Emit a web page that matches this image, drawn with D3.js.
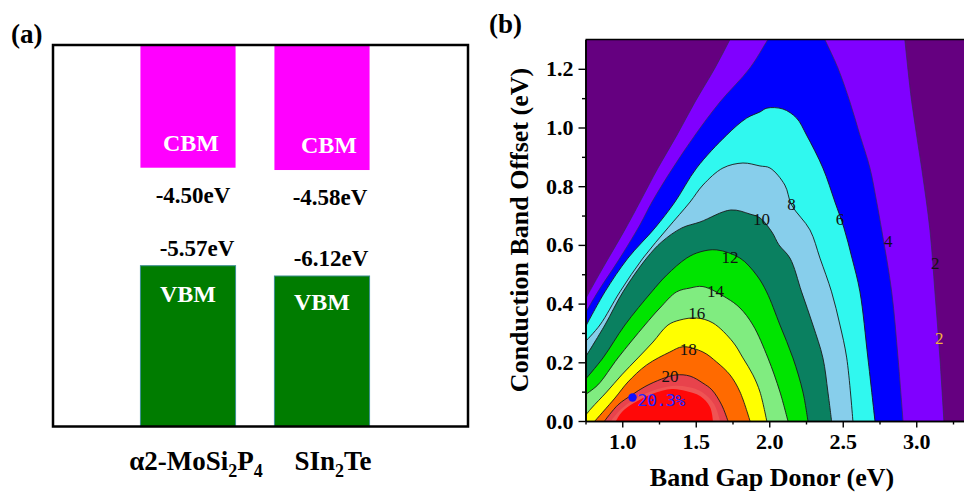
<!DOCTYPE html>
<html>
<head>
<meta charset="utf-8">
<script src="https://cdn.jsdelivr.net/npm/d3@7"></script>
<style>
  html, body { margin: 0; padding: 0; background: #fff; }
  svg { display: block; }
  text { font-family: "Liberation Serif", "Times New Roman", serif; }
</style>
</head>
<body>
<svg id="fig" width="964" height="492"></svg>
<script>
// ---------- Panel (a): band edge alignment ----------
const materials = ["α2-MoSi2P4", "SIn2Te"];
const materialParts = [
  [["α2-MoSi", 0], ["2", 1], ["P", 0], ["4", 1]],
  [["SIn", 0], ["2", 1], ["Te", 0]]
];
const cbmValues = [-4.50, -4.58];   // conduction band minimum (eV)
const vbmValues = [-5.57, -6.12];   // valence band maximum (eV)

// ---------- Panel (b): PCE contour map ----------
// Iso-efficiency lines (%), each traced as [band gap donor (eV), conduction band offset (eV)].
// Lines that leave through the top of the map continue a little past 1.3 eV and are clipped.
const contour2 = [[0.746,0.412],[0.848,0.504],[1.025,0.658],[1.120,0.746],[1.243,0.862],[1.372,0.974],
  [1.495,1.087],[1.631,1.203],[1.733,1.300],[1.838,1.400],[2.900,1.400],[2.922,1.300],[2.969,1.088],
  [3.037,0.861],[3.093,0.651],[3.127,0.440],[3.161,0.215],[3.188,0]];
const contour4 = [[0.746,0.365],[0.834,0.440],[0.984,0.555],[1.120,0.668],[1.202,0.746],[1.344,0.862],
  [1.495,0.974],[1.665,1.087],[1.869,1.203],[1.991,1.300],[2.117,1.400],[2.286,1.400],[2.378,1.300],
  [2.467,1.203],[2.549,1.087],[2.617,0.974],[2.685,0.862],[2.731,0.746],[2.765,0.651],[2.833,0.440],
  [2.876,0.215],[2.910,0]];
const contour6 = [[0.746,0.317],[0.882,0.440],[1.039,0.555],[1.223,0.658],[1.358,0.746],[1.506,0.862],
  [1.710,0.974],[1.846,1.032],[1.937,1.053],[1.984,1.066],[2.093,1.063],[2.186,1.032],[2.254,0.974],
  [2.365,0.862],[2.447,0.746],[2.508,0.658],[2.563,0.555],[2.617,0.440],[2.671,0.215],[2.719,0]];
const contour8 = [[0.746,0.269],[0.848,0.327],[0.984,0.440],[1.141,0.555],[1.311,0.658],[1.461,0.746],
  [1.549,0.804],[1.685,0.862],[1.821,0.879],[1.937,0.869],[2.005,0.862],[2.106,0.804],[2.152,0.736],
  [2.277,0.651],[2.345,0.555],[2.424,0.440],[2.481,0.327],[2.527,0.215],[2.569,0]];
const contour10 = [[0.746,0.215],[0.882,0.327],[1.005,0.440],[1.166,0.555],[1.268,0.610],[1.406,0.658],
  [1.529,0.678],[1.739,0.719],[1.869,0.705],[1.937,0.692],[2.018,0.644],[2.066,0.600],[2.141,0.555],
  [2.220,0.440],[2.297,0.327],[2.365,0.215],[2.399,0.099],[2.424,0]];
const contour12 = [[0.746,0.140],[0.869,0.215],[1.018,0.327],[1.200,0.440],[1.302,0.497],[1.438,0.555],
  [1.529,0.576],[1.642,0.583],[1.801,0.555],[1.914,0.497],[1.982,0.440],[2.073,0.327],[2.161,0.215],
  [2.229,0.099],[2.263,0]];
const contour14 = [[0.746,0.089],[0.834,0.123],[0.971,0.215],[1.154,0.327],[1.256,0.385],[1.370,0.440],
  [1.461,0.453],[1.549,0.458],[1.710,0.419],[1.801,0.385],[1.889,0.327],[1.991,0.215],[2.073,0.099],
  [2.127,0]];
const contour16 = [[0.746,0.017],[0.791,0.044],[0.894,0.099],[0.996,0.157],[1.107,0.215],[1.209,0.269],
  [1.311,0.327],[1.392,0.344],[1.506,0.351],[1.617,0.334],[1.753,0.269],[1.821,0.215],[1.889,0.157],
  [1.937,0.099],[1.983,0]];
const contour18 = [[0.814,0],[0.950,0.078],[1.039,0.133],[1.166,0.191],[1.324,0.235],[1.413,0.253],
  [1.549,0.235],[1.642,0.201],[1.733,0.157],[1.801,0.099],[1.869,0]];
const contour20 = [[0.880,0],[0.971,0.055],[1.066,0.089],[1.154,0.117],[1.268,0.143],[1.365,0.157],
  [1.461,0.153],[1.549,0.129],[1.610,0.106],[1.676,0.055],[1.719,0]];
const contour20b = [[0.923,0],[0.984,0.037],[1.086,0.075],[1.202,0.102],[1.338,0.119],[1.447,0.116],
  [1.542,0.099],[1.624,0.058],[1.665,0]];
const contour20c = [[0.957,0],[0.998,0.031],[1.079,0.061],[1.202,0.092],[1.338,0.109],[1.433,0.102],
  [1.529,0.085],[1.597,0.048],[1.617,0]];

const contourLevels = [2, 4, 6, 8, 10, 12, 14, 16, 18, 20, 20.15, 20.25];
const contourLines = [contour2, contour4, contour6, contour8, contour10, contour12,
  contour14, contour16, contour18, contour20, contour20b, contour20c];
const drawnLine = [true, true, true, true, true, true, true, true, true, true, false, false];

// labels placed on the iso-lines
const contourLabels = [
  { text: "2", eg: 3.130, off: 0.537, warm: false },
  { text: "2", eg: 3.157, off: 0.282, warm: true },
  { text: "4", eg: 2.810, off: 0.611, warm: false },
  { text: "6", eg: 2.481, off: 0.685, warm: false },
  { text: "8", eg: 2.152, off: 0.736, warm: false },
  { text: "10", eg: 1.948, off: 0.688, warm: false },
  { text: "12", eg: 1.733, off: 0.556, warm: false },
  { text: "14", eg: 1.635, off: 0.441, warm: false },
  { text: "16", eg: 1.506, off: 0.365, warm: false },
  { text: "18", eg: 1.449, off: 0.242, warm: false },
  { text: "20", eg: 1.324, off: 0.151, warm: false }
];
const optimum = { eg: 1.07, off: 0.08, pce: 20.3 };

const xMajorTicks = [1.0, 1.5, 2.0, 2.5, 3.0];
const xMinorTicks = [0.75, 1.25, 1.75, 2.25, 2.75, 3.25];
const yMajorTicks = [0.0, 0.2, 0.4, 0.6, 0.8, 1.0, 1.2];
const yMinorTicks = [0.1, 0.3, 0.5, 0.7, 0.9, 1.1];

// fill colour per band (below first level, then above each level)
const bandColors = ["#650080", "#8000ff", "#0000ff", "#30f8ef", "#87ceeb", "#0a8060",
  "#00e400", "#80ec80", "#ffff00", "#ff6a00", "#e8434c", "#ef5454", "#ff0808"];

const svg = d3.select("#fig");
svg.append("rect").attr("width", 964).attr("height", 492).attr("fill", "#fff");

// ================= Panel (a) =================
const frameA = { left: 53, top: 45, right: 468, bottom: 426.5 };
const xa = d3.scaleBand().domain(materials).range([121, 389])
  .paddingInner(0.29).paddingOuter(0.145);
// broken energy axis: finer spacing within each band edge group
const ea = d3.scaleLinear().domain([-4.0, -4.6, -5.5, -6.5]).range([153.3, 170.6, 264.4, 283.1]);

const ga = svg.append("g");
materials.forEach((m, i) => {
  const x0 = xa(m), w = xa.bandwidth(), cx = x0 + w / 2;
  const yc = ea(cbmValues[i]), yv = ea(vbmValues[i]);
  ga.append("rect").attr("x", x0).attr("y", frameA.top).attr("width", w)
    .attr("height", yc - frameA.top).attr("fill", "#ff00ff");
  ga.append("rect").attr("x", x0).attr("y", yv).attr("width", w)
    .attr("height", frameA.bottom - yv).attr("fill", "#007c00")
    .attr("stroke", "#3d8f92").attr("stroke-width", 1);
  ga.append("text").attr("x", cx + 3 + i * 4).attr("y", yc - 17).attr("text-anchor", "middle")
    .attr("font-size", 24).attr("font-weight", "bold").attr("fill", "#fff").text("CBM");
  ga.append("text").attr("x", cx).attr("y", yv + 36 - i * 2).attr("text-anchor", "middle")
    .attr("font-size", 24).attr("font-weight", "bold").attr("fill", "#fff").text("VBM");
  ga.append("text").attr("x", cx + 5 + i * 3).attr("y", yc + 35).attr("text-anchor", "middle")
    .attr("font-size", 23).attr("font-weight", "bold").attr("fill", "#000")
    .text(cbmValues[i].toFixed(2) + "eV");
  ga.append("text").attr("x", cx + 9).attr("y", yv - 10).attr("text-anchor", "middle")
    .attr("font-size", 23).attr("font-weight", "bold").attr("fill", "#000")
    .text(vbmValues[i].toFixed(2) + "eV");
  const lab = ga.append("text").attr("x", cx + 8 + i * 3).attr("y", 470).attr("text-anchor", "middle")
    .attr("font-size", 27).attr("font-weight", "bold").attr("fill", "#000");
  materialParts[i].forEach(([t, sub], k) => {
    const prevSub = k > 0 && materialParts[i][k - 1][1];
    const ts = lab.append("tspan").text(t);
    if (sub) ts.attr("font-size", 18).attr("dy", 7);
    else if (prevSub) ts.attr("dy", -7);
  });
});
ga.append("rect").attr("x", frameA.left).attr("y", frameA.top)
  .attr("width", frameA.right - frameA.left).attr("height", frameA.bottom - frameA.top)
  .attr("fill", "none").attr("stroke", "#000").attr("stroke-width", 2.5);
svg.append("text").attr("x", 11).attr("y", 43).attr("font-size", 27).attr("font-weight", "bold").text("(a)");

// ================= Panel (b) =================
const pb = { left: 585.5, top: 39.5, right: 964, bottom: 421 };
const x = d3.scaleLinear().domain([0.75, 3.5]).range([585.5, 989.75]);
const y = d3.scaleLinear().domain([0, 1.3]).range([421, 39.45]);

const defs = svg.append("defs");
defs.append("clipPath").attr("id", "plotClip").append("rect")
  .attr("x", pb.left).attr("y", pb.top).attr("width", pb.right - pb.left).attr("height", pb.bottom - pb.top);

const gb = svg.append("g").attr("clip-path", "url(#plotClip)");
gb.append("rect").attr("x", pb.left).attr("y", pb.top - 5).attr("width", pb.right - pb.left)
  .attr("height", pb.bottom - pb.top + 5).attr("fill", bandColors[0]);

const curve = d3.line().x(d => x(d[0])).y(d => y(d[1])).curve(d3.curveCatmullRom.alpha(0.5));

contourLines.forEach((pts, i) => {
  gb.append("path")
    .attr("d", curve(pts) + `L${x(0.75)},${y(0)}Z`)
    .attr("fill", bandColors[i + 1]);
});
contourLines.forEach((pts, i) => {
  if (!drawnLine[i]) return;
  gb.append("path").attr("d", curve(pts)).attr("fill", "none")
    .attr("stroke", i < 2 ? "#3a2a55" : "#1a1a1a").attr("stroke-width", i < 2 ? 0.7 : 0.9);
});

gb.selectAll("text.clab").data(contourLabels).join("text").attr("class", "clab")
  .attr("x", d => x(d.eg)).attr("y", d => y(d.off))
  .attr("text-anchor", "middle").attr("dominant-baseline", "central")
  .attr("font-size", 17).attr("fill", d => d.warm ? "#f4b43c" : "#111").text(d => d.text);

gb.append("circle").attr("cx", x(optimum.eg)).attr("cy", y(optimum.off)).attr("r", 4.2).attr("fill", "#1010ff");
gb.append("text").attr("x", x(optimum.eg) + 5).attr("y", y(optimum.off) + 8)
  .style("font-family", "'DejaVu Sans Mono', monospace").attr("font-size", 16.5)
  .attr("letter-spacing", -0.5).attr("fill", "#2323ff").text(optimum.pce.toFixed(1) + "%");

// axes
const axisStyle = g => {
  g.selectAll(".domain").attr("stroke", "#000").attr("stroke-width", 1.6);
  g.selectAll(".tick line").attr("stroke", "#000").attr("stroke-width", 1.4);
  g.selectAll(".tick text").style("font-family", "'Liberation Serif','Times New Roman',serif")
    .attr("font-size", 22).attr("font-weight", "bold").attr("fill", "#000");
};
svg.append("g").attr("transform", `translate(0,${pb.bottom})`)
  .call(d3.axisBottom(x).tickValues(xMinorTicks).tickSize(3.5).tickSizeOuter(0).tickFormat(""))
  .call(axisStyle);
svg.append("g").attr("transform", `translate(0,${pb.bottom})`)
  .call(d3.axisBottom(x).tickValues(xMajorTicks).tickSize(6.5).tickSizeOuter(0).tickPadding(6).tickFormat(d3.format(".1f")))
  .call(axisStyle);
svg.append("g").attr("transform", `translate(${pb.left},0)`)
  .call(d3.axisLeft(y).tickValues(yMinorTicks).tickSize(3.5).tickSizeOuter(0).tickFormat(""))
  .call(axisStyle);
svg.append("g").attr("transform", `translate(${pb.left},0)`)
  .call(d3.axisLeft(y).tickValues(yMajorTicks).tickSize(7).tickSizeOuter(0).tickPadding(5).tickFormat(d3.format(".1f")))
  .call(axisStyle);
svg.append("line").attr("x1", pb.left).attr("x2", pb.right).attr("y1", pb.top).attr("y2", pb.top)
  .attr("stroke", "#000").attr("stroke-width", 1.6);

svg.append("text").attr("x", 772).attr("y", 486).attr("text-anchor", "middle")
  .attr("font-size", 26).attr("font-weight", "bold").text("Band Gap Donor (eV)");
svg.append("text").attr("transform", "translate(528,230) rotate(-90)").attr("text-anchor", "middle")
  .attr("font-size", 26).attr("font-weight", "bold").text("Conduction Band Offset (eV)");
svg.append("text").attr("x", 489).attr("y", 33).attr("font-size", 27).attr("font-weight", "bold").text("(b)");
</script>
</body>
</html>
